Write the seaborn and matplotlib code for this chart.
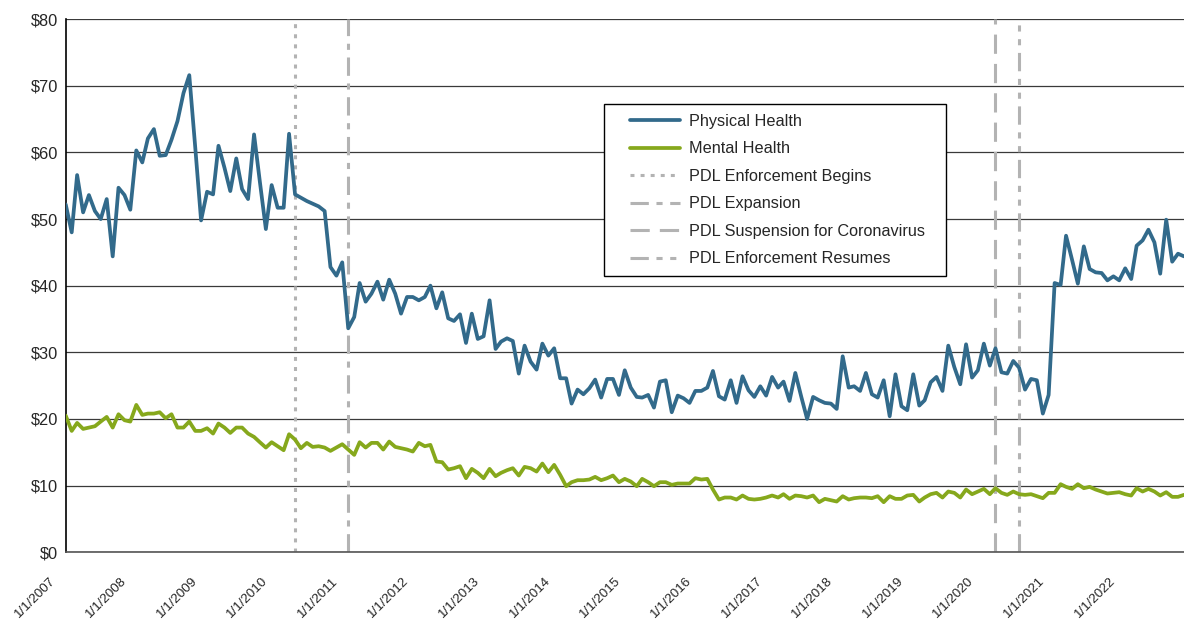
import pandas as pd
import numpy as np
import matplotlib
matplotlib.use("Agg")
import matplotlib.pyplot as plt
import matplotlib.transforms as mtransforms
from matplotlib.lines import Line2D
from matplotlib.legend_handler import HandlerLine2D
import seaborn as sns

# monthly values, Jan 2007 - Nov 2022
physical = [
    52.2, 48.0, 56.6, 51.0, 53.6, 51.2, 50.0, 53.0, 44.4, 54.7, 53.6, 51.4,   # 2007
    60.3, 58.5, 62.1, 63.5, 59.5, 59.6, 61.9, 64.7, 68.9, 71.6, 60.7, 49.8,   # 2008
    54.1, 53.7, 61.0, 57.7, 54.2, 59.1, 54.5, 53.0, 62.7, 55.6, 48.5, 55.1,   # 2009
    51.7, 51.7, 62.8, 53.7, 53.2, 52.7, 52.3, 51.9, 51.2, 42.8, 41.5, 43.5,   # 2010
    33.6, 35.3, 40.4, 37.6, 38.8, 40.6, 37.9, 40.9, 38.8, 35.8, 38.3, 38.3,   # 2011
    37.8, 38.3, 40.0, 36.6, 39.0, 35.1, 34.7, 35.7, 31.4, 35.8, 32.0, 32.4,   # 2012
    37.8, 30.5, 31.6, 32.1, 31.7, 26.8, 31.0, 28.6, 27.4, 31.3, 29.5, 30.6,   # 2013
    26.1, 26.1, 22.3, 24.4, 23.7, 24.6, 25.9, 23.2, 26.0, 26.0, 23.6, 27.3,   # 2014
    24.7, 23.3, 23.2, 23.6, 21.7, 25.6, 25.8, 21.0, 23.5, 23.1, 22.4, 24.2,   # 2015
    24.2, 24.7, 27.2, 23.4, 22.9, 25.8, 22.4, 26.4, 24.3, 23.3, 24.9, 23.5,   # 2016
    26.3, 24.7, 25.6, 22.7, 26.9, 23.3, 20.0, 23.3, 22.8, 22.4, 22.3, 21.5,   # 2017
    29.4, 24.7, 24.9, 24.2, 26.9, 23.7, 23.2, 25.8, 20.4, 26.7, 21.9, 21.3,   # 2018
    26.7, 22.0, 22.8, 25.5, 26.3, 24.2, 31.0, 27.8, 25.2, 31.2, 26.2, 27.3,   # 2019
    31.3, 28.0, 30.6, 27.0, 26.8, 28.7, 27.7, 24.4, 26.0, 25.8, 20.8, 23.6,   # 2020
    40.4, 40.1, 47.5, 43.9, 40.3, 45.9, 42.5, 42.0, 41.9, 40.8, 41.4, 40.8,   # 2021
    42.6, 41.0, 46.0, 46.8, 48.4, 46.5, 41.8, 49.9, 43.6, 44.8, 44.4,         # 2022
]
mental = [
    20.5, 18.2, 19.4, 18.5, 18.7, 18.9, 19.6, 20.3, 18.7, 20.7, 19.8, 19.6,   # 2007
    22.1, 20.6, 20.8, 20.8, 21.0, 20.1, 20.7, 18.7, 18.7, 19.6, 18.2, 18.2,   # 2008
    18.6, 17.8, 19.3, 18.7, 17.9, 18.7, 18.7, 17.8, 17.3, 16.5, 15.7, 16.5,   # 2009
    15.9, 15.3, 17.7, 16.9, 15.6, 16.4, 15.8, 15.9, 15.7, 15.2, 15.7, 16.2,   # 2010
    15.4, 14.6, 16.5, 15.7, 16.4, 16.4, 15.4, 16.6, 15.8, 15.6, 15.4, 15.1,   # 2011
    16.4, 15.9, 16.1, 13.6, 13.5, 12.4, 12.6, 12.9, 11.1, 12.5, 11.9, 11.1,   # 2012
    12.5, 11.4, 11.9, 12.3, 12.6, 11.5, 12.8, 12.6, 12.1, 13.3, 12.0, 13.1,   # 2013
    11.6, 9.9, 10.5, 10.8, 10.8, 10.9, 11.3, 10.8, 11.1, 11.5, 10.5, 11.0,    # 2014
    10.6, 9.9, 11.0, 10.5, 9.9, 10.5, 10.5, 10.1, 10.3, 10.3, 10.3, 11.1,     # 2015
    10.9, 11.0, 9.4, 7.9, 8.2, 8.2, 7.9, 8.5, 8.0, 7.9, 8.0, 8.2,             # 2016
    8.5, 8.2, 8.7, 8.0, 8.5, 8.4, 8.2, 8.5, 7.5, 8.0, 7.8, 7.6,               # 2017
    8.4, 7.9, 8.1, 8.2, 8.2, 8.1, 8.4, 7.5, 8.4, 8.0, 8.0, 8.5,               # 2018
    8.6, 7.6, 8.2, 8.7, 8.9, 8.2, 9.1, 8.9, 8.2, 9.4, 8.7, 9.1,               # 2019
    9.5, 8.7, 9.6, 8.9, 8.6, 9.1, 8.7, 8.6, 8.7, 8.4, 8.1, 8.9,               # 2020
    8.9, 10.2, 9.8, 9.5, 10.2, 9.6, 9.8, 9.4, 9.1, 8.8, 8.9, 9.0,             # 2021
    8.7, 8.5, 9.6, 9.1, 9.5, 9.1, 8.5, 9.0, 8.3, 8.3, 8.6,                    # 2022
]

events = ["PDL Enforcement Begins", "PDL Expansion",
          "PDL Suspension for Coronavirus", "PDL Enforcement Resumes"]
event_dates = ["2010-04-01", "2011-01-01", "2020-03-01", "2020-07-01"]
event_styles = [(0, (1.3, 2.0)), (0, (6, 2.5, 2, 2.5)),
                (0, (6.3, 3.3)), (0, (6, 2.5, 2, 2.5, 2, 2.5))]

years = list(range(2007, 2023))
tick_labels = [f"1/1/{y}" for y in years]
y_ticks = list(range(0, 81, 10))

dates = pd.date_range("2007-01-01", periods=len(physical), freq="MS")
df = pd.DataFrame({"date": dates, "Physical Health": physical, "Mental Health": mental})

sns.set_style("white")
plt.rcParams["font.family"] = ["Liberation Sans", "DejaVu Sans"]

fig = plt.figure(figsize=(11.84, 6.19), dpi=100)
ax = fig.add_axes([0.0555, 0.108, 0.9445, 0.861])

for y in y_ticks:
    ax.axhline(y, color="#3a3a3a", lw=0.9, zorder=1)

sns.lineplot(data=df, x="date", y="Physical Health", ax=ax, color="#326a8b",
             lw=2.7, label="Physical Health", zorder=3)
sns.lineplot(data=df, x="date", y="Mental Health", ax=ax, color="#86a81c",
             lw=2.7, label="Mental Health", zorder=3)

for name, d, ls in zip(events, event_dates, event_styles):
    ax.axvline(pd.Timestamp(d), color="#b3b3b3", lw=2.2, linestyle=ls,
               label=name, zorder=2)

ax.set_xlim(dates[0], dates[-1])
ax.set_ylim(0, 80)
ax.set_yticks(y_ticks)
ax.set_yticklabels([f"${v}" for v in y_ticks], fontsize=11.8)
ax.set_xticks([pd.Timestamp(f"{y}-01-01") for y in years])
ax.set_xticklabels(tick_labels, rotation=45, ha="right",
                   rotation_mode="anchor", fontsize=9.6)
ax.tick_params(axis="y", direction="out", length=5, width=0.9, color="#333333", pad=0.5)
ax.tick_params(axis="x", direction="out", length=4, width=0.9, color="#333333", pad=6)
shift = mtransforms.ScaledTranslation(-16 / 100, -9 / 100, fig.dpi_scale_trans)
for lab in ax.get_xticklabels():
    lab.set_transform(lab.get_transform() + shift)
ax.set_xlabel("")
ax.set_ylabel("")

for s in ["top", "right"]:
    ax.spines[s].set_visible(False)
ax.spines["left"].set_color("black")
ax.spines["left"].set_linewidth(1.2)
ax.spines["bottom"].set_color("#555555")
ax.spines["bottom"].set_linewidth(1.2)

leg = ax.legend(loc="upper left", bbox_to_anchor=(0.481, 0.5216, 0.3058, 0.319),
                mode="expand", fontsize=11.7,
                frameon=True, fancybox=False, handlelength=4.1, labelspacing=0.77,
                borderpad=0.6, handletextpad=0.55, borderaxespad=0,
                handler_map={Line2D: HandlerLine2D(xpad=1.0)})
leg.get_frame().set_edgecolor("black")
leg.get_frame().set_linewidth(1.0)
leg.get_frame().set_alpha(1)

fig.savefig("out.png", dpi=100)
